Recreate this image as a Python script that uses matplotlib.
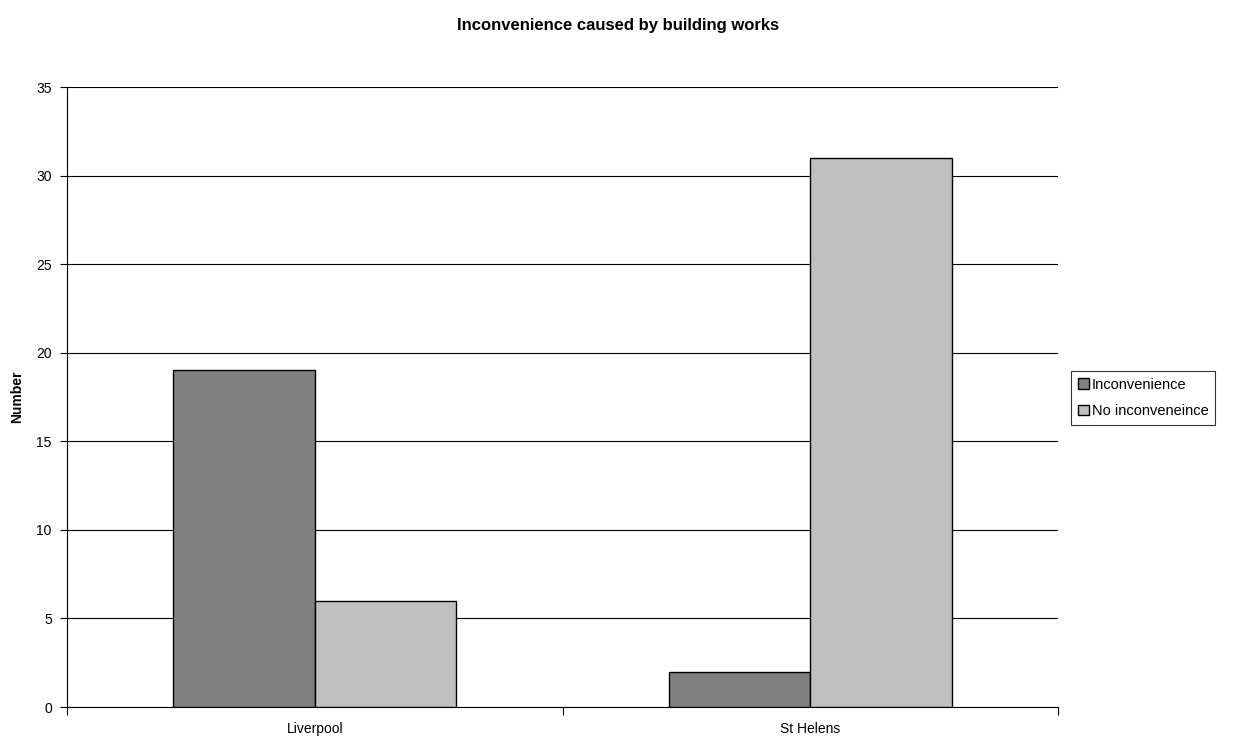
import numpy as np
import matplotlib.pyplot as plt

plt.rcParams['font.family'] = ['Liberation Sans', 'DejaVu Sans']

places = ['Liverpool', 'St Helens']
inconvenience = [19, 2]
no_inconvenience = [6, 31]

fig = plt.figure(figsize=(12.37, 7.38), dpi=100)
ax = fig.add_axes([0.0542, 0.042, 0.8011, 0.840])

x = np.arange(len(places))
w = 1 / 3.5
ax.bar(x - w / 2, inconvenience, w, color='#808080', edgecolor='black', linewidth=1,
       label='Inconvenience', zorder=3)
ax.bar(x + w / 2, no_inconvenience, w, color='#c0c0c0', edgecolor='black', linewidth=1,
       label='No inconveneince', zorder=3)

ax.set_xlim(-0.5, 1.5)
ax.set_ylim(0, 35)
ax.set_yticks(range(0, 36, 5))
ax.yaxis.grid(True, color='black', linewidth=0.8)
ax.set_axisbelow(True)

# category labels in the middle, tick marks on the boundaries
ax.set_xticks([-0.5, 0.5, 1.5])
ax.set_xticklabels([])
ax.set_xticks(x, minor=True)
ax.set_xticklabels(places, minor=True)
ax.tick_params(axis='x', which='minor', length=0, pad=11, labelsize=10)
ax.tick_params(axis='x', which='major', length=6, direction='out')
ax.tick_params(axis='y', length=5, direction='out', labelsize=10, pad=6)

for s in ['top', 'right']:
    ax.spines[s].set_visible(False)

ax.set_ylabel('Number', fontsize=10, fontweight='bold', labelpad=9)
fig.suptitle('Inconvenience caused by building works', fontsize=12, fontweight='bold', y=0.975)

leg = ax.legend(loc='center left', bbox_to_anchor=(0.866, 0.461), bbox_transform=fig.transFigure,
                fontsize=10.5, frameon=True, fancybox=False, edgecolor='black',
                handlelength=0.75, handleheight=0.75, handletextpad=0.2, borderpad=0.45,
                labelspacing=0.85, borderaxespad=0)
leg.get_frame().set_linewidth(0.8)

fig.savefig('out.png', dpi=100)
